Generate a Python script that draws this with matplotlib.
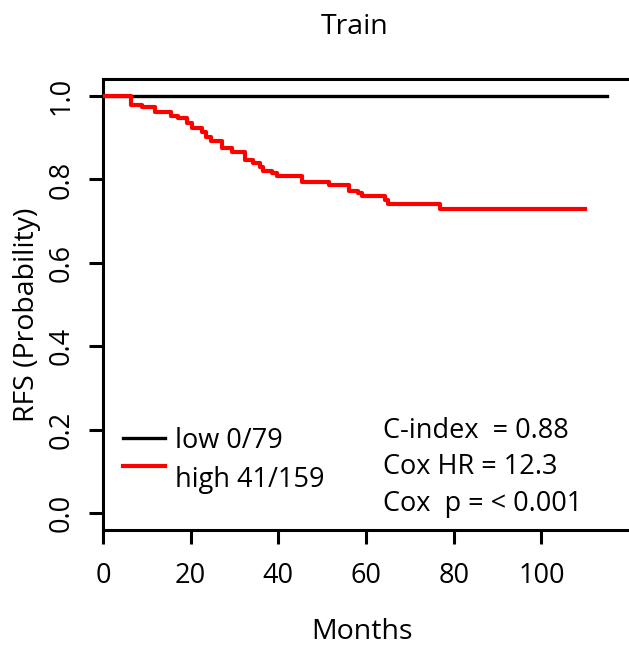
import matplotlib
matplotlib.use("Agg")
import matplotlib.pyplot as plt

plt.rcParams['font.family'] = ['Open Sans', 'DejaVu Sans']

# Kaplan-Meier data
low_times = [0, 115]
low_surv = [1.0, 1.0]

high_times = [0, 6.3, 8.8, 11.9, 15.4, 17.2, 19.1, 20.2, 22.5, 23.5, 24.6, 27.1, 29.4,
              32.4, 34.3, 35.8, 36.5, 38.5, 39.6, 45.4, 51.6, 56.0, 58.2, 59.0, 64.3,
              65.0, 76.8, 110]
high_surv = [1.0, 0.979, 0.973, 0.961, 0.953, 0.947, 0.935, 0.923, 0.914, 0.902, 0.891,
             0.875, 0.865, 0.847, 0.839, 0.831, 0.821, 0.815, 0.808, 0.795, 0.787, 0.773,
             0.767, 0.760, 0.750, 0.740, 0.729, 0.729]

x_ticks = [0, 20, 40, 60, 80, 100]
y_ticks = [0.0, 0.2, 0.4, 0.6, 0.8, 1.0]
y_ticklabels = ["0.0", "0.2", "0.4", "0.6", "0.8", "1.0"]

legend_labels = ["low 0/79", "high 41/159"]
stats_lines = ["C-index  = 0.88", "Cox HR = 12.3", "Cox  p = < 0.001"]

W, H = 629, 646
fig = plt.figure(figsize=(W / 100, H / 100), dpi=100)

# axes geometry in pixels
left_px, top_px, bottom_px = 103, 79.3, 530
xmax = 125
px_per_unit = 4.384
right_px = left_px + xmax * px_per_unit
ax = fig.add_axes([left_px / W, (H - bottom_px) / H, (right_px - left_px) / W,
                   (bottom_px - top_px) / H])
ax.set_xlim(0, xmax)
ax.set_ylim(-0.04, 1.04)

lw_axis = 2.2
ax.step(low_times, low_surv, where='post', color='black', lw=2.4, zorder=3)
ax.step(high_times, high_surv, where='post', color='#ff0000', lw=3.0, zorder=4)

for s in ax.spines.values():
    s.set_linewidth(lw_axis)
ax.spines['right'].set_visible(False)

ax.set_xticks(x_ticks)
ax.set_xticklabels([str(t) for t in x_ticks])
ax.set_yticks(y_ticks)
ax.set_yticklabels(y_ticklabels, rotation=90, va='center')
ax.tick_params(axis='both', direction='out', length=10, width=lw_axis,
               labelsize=19.5, color='black')
ax.tick_params(axis='x', pad=13)
ax.tick_params(axis='y', pad=10)

def fx(px):
    return px / W

def fy(py):
    return 1 - py / H

fig.text(fx(355), fy(27), "Train", ha='center', va='center', fontsize=20.5)
fig.text(fx(362), fy(632), "Months", ha='center', va='center', fontsize=20.5)
fig.text(fx(27), fy(315), "RFS (Probability)", ha='center', va='center',
         rotation=90, fontsize=20.5)

# legend
leg_y = [438, 466]
leg_text_y = [441, 480]
colors = ['black', '#ff0000']
lws = [2.4, 3.0]
for i in range(2):
    fig.add_artist(plt.Line2D([fx(123), fx(165)], [fy(leg_y[i]), fy(leg_y[i])],
                              color=colors[i], lw=lws[i]))
    fig.text(fx(175), fy(leg_text_y[i]), legend_labels[i], ha='left', va='center',
             fontsize=19.5)

stat_y = [431, 467, 504]
for t, y in zip(stats_lines, stat_y):
    fig.text(fx(383), fy(y), t, ha='left', va='center', fontsize=19.5)

fig.savefig("out.png", dpi=100)
